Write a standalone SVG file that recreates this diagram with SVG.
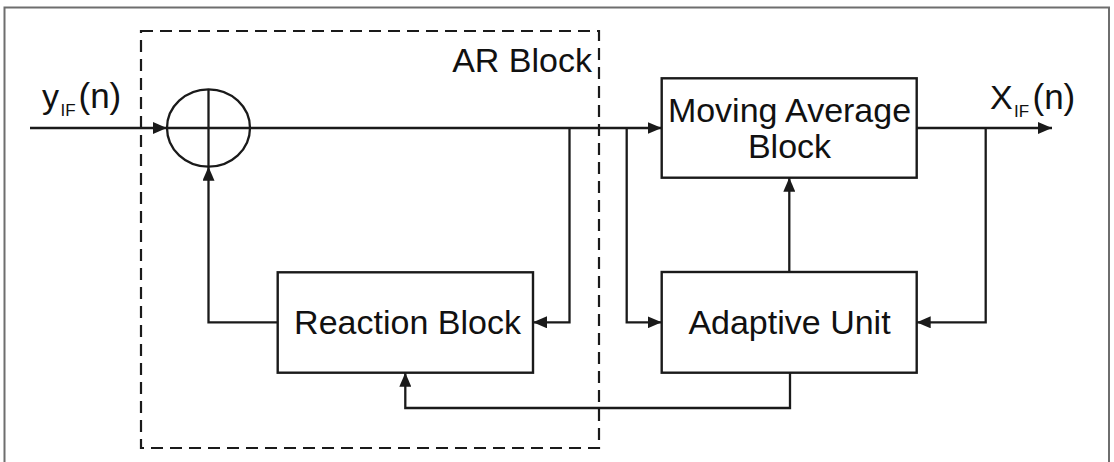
<svg xmlns="http://www.w3.org/2000/svg" width="1114" height="462" viewBox="0 0 1114 462">
<style>
  .box { fill: #fff; stroke: #1a1a1a; stroke-width: 2.4; }
  .line { fill: none; stroke: #1a1a1a; stroke-width: 2.3; }
  .arr { marker-end: url(#ah); }
  .lbl { font-family: "Liberation Sans", Arial, sans-serif; font-size: 34px; fill: #111; }
  .sub { font-size: 17px; }
  .dash { fill: none; stroke: #1a1a1a; stroke-width: 2.2; stroke-dasharray: 12 7; }
</style>
<defs>
  <marker id="ah" viewBox="0 0 14 12" refX="14" refY="6" markerWidth="14" markerHeight="12" orient="auto" markerUnits="userSpaceOnUse">
    <path d="M0,0 L14,6 L0,12 Z" fill="#1a1a1a"/>
  </marker>
</defs>
<rect width="1114" height="462" fill="#fff"/>
<rect x="4.5" y="7.5" width="1104.5" height="470" fill="none" stroke="#6e6e6e" stroke-width="2"/>

<g id="ar-block">
  <rect class="dash" x="141" y="31" width="458" height="417"/>
  <text class="lbl" x="592" y="72" text-anchor="end">AR Block</text>
</g>

<g id="summer">
  <ellipse class="line" cx="208.5" cy="128" rx="41.5" ry="38.7"/>
  <line class="line" x1="167" y1="128" x2="250" y2="128"/>
  <line class="line" x1="208.5" y1="89.3" x2="208.5" y2="166.7"/>
</g>

<g id="moving-average">
  <rect class="box" x="661.7" y="78.3" width="255" height="99.4"/>
  <text class="lbl" x="789.5" y="121.5" text-anchor="middle">Moving Average</text>
  <text class="lbl" x="789.5" y="158.3" text-anchor="middle">Block</text>
</g>

<g id="reaction">
  <rect class="box" x="277.7" y="272.3" width="255.3" height="100.4"/>
  <text class="lbl" x="407.5" y="334.3" text-anchor="middle">Reaction Block</text>
</g>

<g id="adaptive">
  <rect class="box" x="661.7" y="272" width="255" height="100.7"/>
  <text class="lbl" x="789.5" y="334.3" text-anchor="middle">Adaptive Unit</text>
</g>

<g id="input-label">
  <text class="lbl" x="42" y="108">y<tspan class="sub" x="60.5" y="116">IF</tspan><tspan x="78.5" y="108" font-size="35">(n)</tspan></text>
</g>
<g id="output-label">
  <text class="lbl" x="990" y="109">X<tspan class="sub" x="1014" y="117">IF</tspan><tspan x="1032.5" y="109" font-size="35">(n)</tspan></text>
</g>

<g id="connectors">
  <line class="line arr" x1="30" y1="128" x2="166.8" y2="128"/>
  <line class="line arr" x1="250" y1="128" x2="661.7" y2="128"/>
  <polyline class="line arr" points="569.5,128 569.5,322.3 533,322.3"/>
  <polyline class="line arr" points="626.7,128 626.7,322.3 661.7,322.3"/>
  <line class="line arr" x1="916.7" y1="128" x2="1052" y2="128"/>
  <polyline class="line arr" points="985.7,128 985.7,322.3 916.7,322.3"/>
  <line class="line arr" x1="789.3" y1="272" x2="789.3" y2="177.7"/>
  <polyline class="line arr" points="790,372.7 790,408 405.3,408 405.3,372.7"/>
  <polyline class="line arr" points="277.7,322.3 208.5,322.3 208.5,166.7"/>
</g>
</svg>
